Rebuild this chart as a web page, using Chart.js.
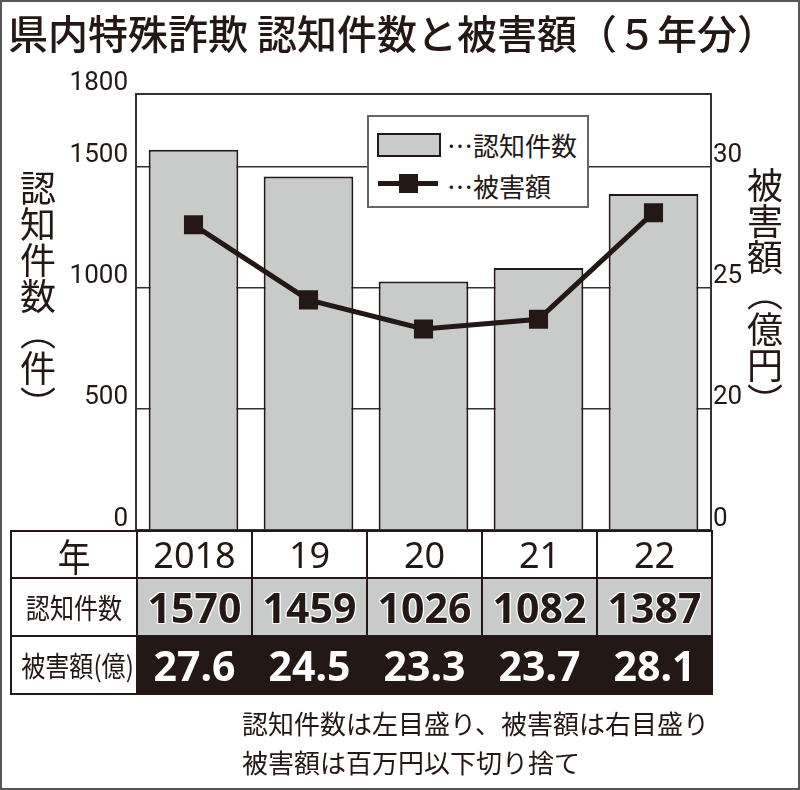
<!DOCTYPE html>
<html>
<head>
<meta charset="utf-8">
<script src="https://cdn.jsdelivr.net/npm/chart.js@4"></script>
<style>
  html, body { margin: 0; padding: 0; background: #fff; }
  body { width: 800px; height: 790px; position: relative; overflow: hidden;
         font-family: "Noto Sans CJK JP", sans-serif; color: #231815; }
  #frame { position: absolute; left: 0; top: 0; width: 800px; height: 790px;
           box-sizing: border-box; border: 2px solid #555; pointer-events: none; }
  #chart { position: absolute; left: 0; top: 0; }
  .title { position: absolute; left: 8px; top: 12px; font-size: 40px; line-height: 40px;
           font-weight: 500; white-space: nowrap; }
  .vtitle { position: absolute; writing-mode: vertical-rl; font-size: 36px; line-height: 36px;
            white-space: nowrap; }
  #legend { position: absolute; left: 367px; top: 115px; width: 222px; height: 93px;
            box-sizing: border-box; border: 2px solid #666; background: #fff; }
  .lg-item { position: absolute; left: 0; height: 30px; width: 100%; }
  .lg-text { position: absolute; left: 78px; top: 0; font-size: 26px; line-height: 30px; white-space: nowrap; }
  table { position: absolute; left: 10px; top: 530px; width: 702px; border-collapse: collapse; table-layout: fixed; }
  td { border: 2px solid #231815; padding: 0; text-align: center; white-space: nowrap; overflow: hidden;
       font-family: "Noto Sans", "Noto Sans CJK JP", sans-serif; }
  tr.yr td { height: 45px; font-size: 36px; line-height: 45px; }
  tr.cnt td { height: 56px; background: #c9caca; font-size: 41px; font-weight: 700; line-height: 56px;
              text-shadow: 0 0 2px #fff, 1px 1px 0 #fff, -1px -1px 0 #fff, 1px -1px 0 #fff, -1px 1px 0 #fff; }
  tr.dmg td { height: 56px; background: #231815; color: #fff; font-size: 41px; font-weight: 700; line-height: 56px;
              border-left-color: #bbb; }
  td.lab { background: #fff !important; color: #231815 !important; font-weight: 400 !important;
           font-family: "Noto Sans CJK JP", sans-serif !important;
           font-size: 28px !important; text-shadow: none !important; border-left-color: #231815 !important; }
  td.lab span { display: inline-block; transform: scaleX(0.86); }
  tr.yr td.lab { font-size: 38px !important; }
  .foot { position: absolute; left: 242px; top: 703px; font-size: 26px; line-height: 39px; white-space: nowrap; }
</style>
</head>
<body>
<canvas id="chart" width="800" height="790"></canvas>
<div class="title">県内特殊詐欺 認知件数と被害額（５年分）</div>
<div class="vtitle" style="left:20px; top:170px;">認知件数（件）</div>
<div class="vtitle" style="left:747px; top:167px;">被害額（億円）</div>
<div id="legend"></div>
<table id="tbl"></table>
<div class="foot">認知件数は左目盛り、被害額は右目盛り<br>被害額は百万円以下切り捨て</div>
<div id="frame"></div>
<script>
var years = ['2018', '19', '20', '21', '22'];
var counts = [1570, 1459, 1026, 1082, 1387];
var damages = [27.6, 24.5, 23.3, 23.7, 28.1];
var leftTicks = [0, 500, 1000, 1500, 1800];
var rightTicks = [15, 20, 25, 30];
var rightTickLabels = ['0', '20', '25', '30'];

var ink = '#231815';
var barGray = '#c9caca';
var tickFont = { family: 'Roboto, sans-serif', size: 26 };

var ctx = document.getElementById('chart').getContext('2d');
var chart = new Chart(ctx, {
  data: {
    labels: years,
    datasets: [{
      type: 'line',
      label: '被害額',
      data: damages,
      yAxisID: 'y1',
      order: 0,
      borderColor: ink,
      backgroundColor: ink,
      borderWidth: 5,
      pointStyle: 'rect',
      pointRadius: 13.5,
      pointBorderWidth: 0,
      tension: 0
    }, {
      type: 'bar',
      label: '認知件数',
      data: counts,
      yAxisID: 'y',
      order: 1,
      backgroundColor: barGray,
      borderColor: ink,
      borderWidth: 2,
      barPercentage: 0.78,
      categoryPercentage: 1
    }]
  },
  options: {
    responsive: false,
    animation: false,
    layout: { padding: { top: 94, bottom: 260, left: 0, right: 0 } },
    plugins: { legend: { display: false }, tooltip: { enabled: false } },
    scales: {
      x: { display: false },
      y: {
        position: 'left',
        min: 0, max: 1800,
        afterBuildTicks: function(s) { s.ticks = leftTicks.map(function(v) { return { value: v }; }); },
        afterFit: function(s) { s.width = 136; },
        ticks: {
          font: tickFont, color: ink, padding: 8, labelOffset: -11,
          callback: function(v) { return String(v); }
        },
        grid: {
          drawTicks: false,
          color: '#333',
          lineWidth: function(c) { return c.tick && c.tick.value === 1800 ? 2 : 1.5; }
        },
        border: { display: true, color: '#333', width: 2 }
      },
      y1: {
        position: 'right',
        min: 15, max: 33,
        afterBuildTicks: function(s) { s.ticks = rightTicks.map(function(v) { return { value: v }; }); },
        afterFit: function(s) { s.width = 89; },
        ticks: {
          font: tickFont, color: ink, padding: 2, labelOffset: -11,
          callback: function(v) { return rightTickLabels[rightTicks.indexOf(v)]; }
        },
        grid: { drawOnChartArea: false, drawTicks: false },
        border: { display: true, color: '#333', width: 2 }
      }
    }
  }
});

// legend box
var legend = document.getElementById('legend');
legend.innerHTML =
  '<div class="lg-item" style="top:13px">' +
    '<div style="position:absolute;left:8px;top:3px;width:64px;height:24px;box-sizing:border-box;background:' + barGray + ';border:2px solid ' + ink + '"></div>' +
    '<div class="lg-text">…' + chart.data.datasets[1].label + '</div></div>' +
  '<div class="lg-item" style="top:54px">' +
    '<div style="position:absolute;left:9px;top:10px;width:60px;height:5px;background:' + ink + '"></div>' +
    '<div style="position:absolute;left:30px;top:3px;width:19px;height:19px;background:' + ink + '"></div>' +
    '<div class="lg-text">…' + chart.data.datasets[0].label + '</div></div>';

// table under the chart
var tbl = document.getElementById('tbl');
var html = '<colgroup><col style="width:126px">';
years.forEach(function() { html += '<col style="width:115px">'; });
html += '</colgroup>';
html += '<tr class="yr"><td class="lab"><span>年</span></td>' + years.map(function(y) { return '<td>' + y + '</td>'; }).join('') + '</tr>';
html += '<tr class="cnt"><td class="lab"><span>認知件数</span></td>' + counts.map(function(c) { return '<td>' + c + '</td>'; }).join('') + '</tr>';
html += '<tr class="dmg"><td class="lab"><span>被害額(億)</span></td>' + damages.map(function(d) { return '<td>' + d.toFixed(1) + '</td>'; }).join('') + '</tr>';
tbl.innerHTML = html;
</script>
</body>
</html>
